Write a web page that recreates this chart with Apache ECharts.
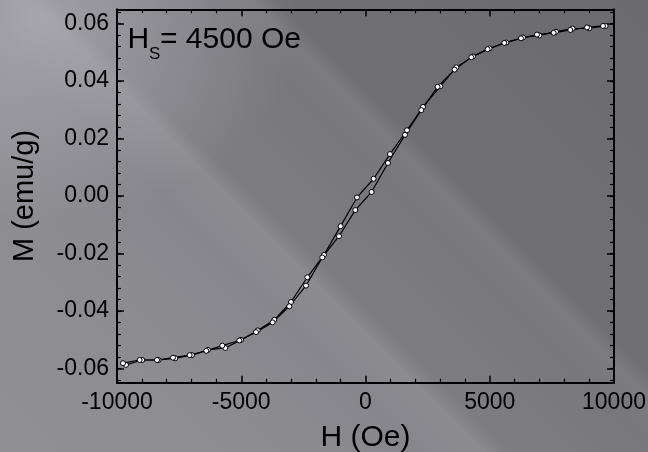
<!DOCTYPE html>
<html>
<head>
<meta charset="utf-8">
<script src="https://cdn.jsdelivr.net/npm/echarts@6/dist/echarts.min.js"></script>
<style>
html,body{margin:0;padding:0;}
body{width:648px;height:452px;overflow:hidden;
background:
 radial-gradient(ellipse 260px 200px at 40px 20px, rgba(190,188,196,0.55), rgba(190,188,196,0) 100%),
 linear-gradient(45deg, #908f94 0%, #8d8c91 25%, #87868c 38%, #8c8b90 44%, #7e7d82 46%, #78777c 60%, #7c7b80 64%, #706f74 66%, #6b6a6f 100%);}
#c{width:648px;height:452px;}
</style>
</head>
<body>
<div id="c"></div>
<script>
// Descending branch (from +H to -H): H (Oe), M (emu/g)
const upperH = [-9638,-8982,-8326,-7654,-6982,-6338,-5642,-5010,-4342,-3670,-2998,-2342,-1670,-1002,-342,326,986,1670,2314,3010,3654,4326,4994,5666,6338,6994,7666,8334,9006,9662];
const upperM = [-0.0588,-0.0571,-0.0571,-0.0565,-0.0554,-0.0536,-0.0529,-0.0501,-0.0468,-0.0431,-0.0369,-0.0283,-0.0205,-0.0105,-0.0005,0.0060,0.0146,0.0229,0.0310,0.0382,0.0448,0.0486,0.0514,0.0534,0.0552,0.0559,0.0572,0.0583,0.0584,0.0592];
// Ascending branch (from -H to +H)
const lowerH = [-9759,-9091,-8390,-7747,-7078,-6406,-5763,-5078,-4406,-3738,-3066,-2394,-1738,-1066,-410,245,905,1590,2245,2901,3586,4257,4913,5586,6257,6901,7570,8242,8913,9557];
const lowerM = [-0.0582,-0.0571,-0.0571,-0.0563,-0.0554,-0.0539,-0.0521,-0.0503,-0.0474,-0.0440,-0.0384,-0.0312,-0.0214,-0.0140,-0.0049,0.0014,0.0115,0.0213,0.0299,0.0380,0.0440,0.0483,0.0511,0.0533,0.0549,0.0562,0.0568,0.0578,0.0587,0.0592];

const yMajorTicks = [-0.06,-0.04,-0.02,0,0.02,0.04,0.06];
const yMinorTicks = [-0.064,-0.060,-0.056,-0.052,-0.048,-0.044,-0.040,-0.036,-0.032,-0.028,-0.024,-0.020,-0.016,-0.012,-0.008,-0.004,0,0.004,0.008,0.012,0.016,0.020,0.024,0.028,0.032,0.036,0.040,0.044,0.048,0.052,0.056,0.060,0.064];
const xTickLabels = ['-10000','-5000','0','5000','10000'];
const annotation = {main:'H', sub:'S', rest:'= 4500 Oe'};

const FONT = 'Arial, "Liberation Sans", sans-serif';
const chart = echarts.init(document.getElementById('c'), null, {renderer:'canvas'});

function pairs(h, m){ return h.map((v,i)=>[v, m[i]]); }

const lineCol = '#000';
const yBase = {
  type:'value', min:-0.065, max:0.065, splitLine:{show:false}
};
const xBase = {
  type:'value', min:-10000, max:10000, interval:5000, splitLine:{show:false}
};

chart.setOption({
  backgroundColor:'transparent',
  animation:false,
  grid:{left:117, right:34, top:9.3, bottom:69.3, containLabel:false, outerBoundsMode:'none'},
  xAxis:[
    Object.assign({}, xBase, {
      position:'bottom',
      name:'H (Oe)', nameLocation:'middle', nameGap:40,
      nameTextStyle:{fontFamily:FONT, fontSize:30, color:'#000'},
      axisLine:{show:true, onZero:false, lineStyle:{color:lineCol, width:2}},
      axisTick:{show:true, inside:true, length:7, lineStyle:{color:lineCol, width:1.5}},
      minorTick:{show:true, splitNumber:5, length:4, lineStyle:{color:lineCol, width:1.2}},
      axisLabel:{show:true, margin:8, fontFamily:FONT, fontSize:23, color:'#000',
        formatter:(v)=>{ const s = String(v); return xTickLabels.indexOf(s) >= 0 ? s : ''; }}
    }),
    Object.assign({}, xBase, {
      position:'top',
      axisLine:{show:true, onZero:false, lineStyle:{color:lineCol, width:2}},
      axisTick:{show:true, inside:true, length:7, lineStyle:{color:lineCol, width:1.5}},
      minorTick:{show:true, splitNumber:5, length:4, lineStyle:{color:lineCol, width:1.2}},
      axisLabel:{show:false}
    })
  ],
  yAxis:[
    Object.assign({}, yBase, {
      position:'left',
      name:'M (emu/g)', nameLocation:'middle', nameGap:78,
      nameTextStyle:{fontFamily:FONT, fontSize:29, color:'#000'},
      axisLine:{show:true, onZero:false, lineStyle:{color:lineCol, width:2}},
      axisTick:{show:true, inside:true, length:7, customValues:yMajorTicks, lineStyle:{color:lineCol, width:1.5}},
      axisLabel:{show:true, margin:8, fontFamily:FONT, fontSize:23, color:'#000', customValues:yMajorTicks,
        formatter:(v)=>v.toFixed(2)}
    }),
    Object.assign({}, yBase, {
      position:'left',
      axisLine:{show:false, onZero:false},
      axisTick:{show:true, inside:true, length:4, customValues:yMinorTicks, lineStyle:{color:lineCol, width:1.2}},
      axisLabel:{show:false}
    }),
    Object.assign({}, yBase, {
      position:'right',
      axisLine:{show:true, onZero:false, lineStyle:{color:lineCol, width:2}},
      axisTick:{show:true, inside:true, length:7, customValues:yMajorTicks, lineStyle:{color:lineCol, width:1.5}},
      axisLabel:{show:false}
    }),
    Object.assign({}, yBase, {
      position:'right',
      axisLine:{show:false, onZero:false},
      axisTick:{show:true, inside:true, length:4, customValues:yMinorTicks, lineStyle:{color:lineCol, width:1.2}},
      axisLabel:{show:false}
    })
  ],
  series:[
    {
      type:'line', name:'descending', xAxisIndex:0, yAxisIndex:0,
      data:pairs(upperH, upperM),
      symbol:'circle', symbolSize:5, showSymbol:true,
      lineStyle:{color:'#000', width:1.2},
      itemStyle:{color:'#fff', borderColor:'#000', borderWidth:1},
      z:3
    },
    {
      type:'line', name:'ascending', xAxisIndex:0, yAxisIndex:0,
      data:pairs(lowerH, lowerM),
      symbol:'circle', symbolSize:5, showSymbol:true,
      lineStyle:{color:'#000', width:1.2},
      itemStyle:{color:'#fff', borderColor:'#000', borderWidth:1},
      z:3
    }
  ],
  graphic:[
    {type:'text', left:127.5, top:25, style:{text:annotation.main, font:'30px '+FONT, fill:'#000'}},
    {type:'text', left:149, top:46, style:{text:annotation.sub, font:'17px '+FONT, fill:'#000'}},
    {type:'text', left:160, top:25, style:{text:annotation.rest, font:'30px '+FONT, fill:'#000'}}
  ]
});
</script>
</body>
</html>
